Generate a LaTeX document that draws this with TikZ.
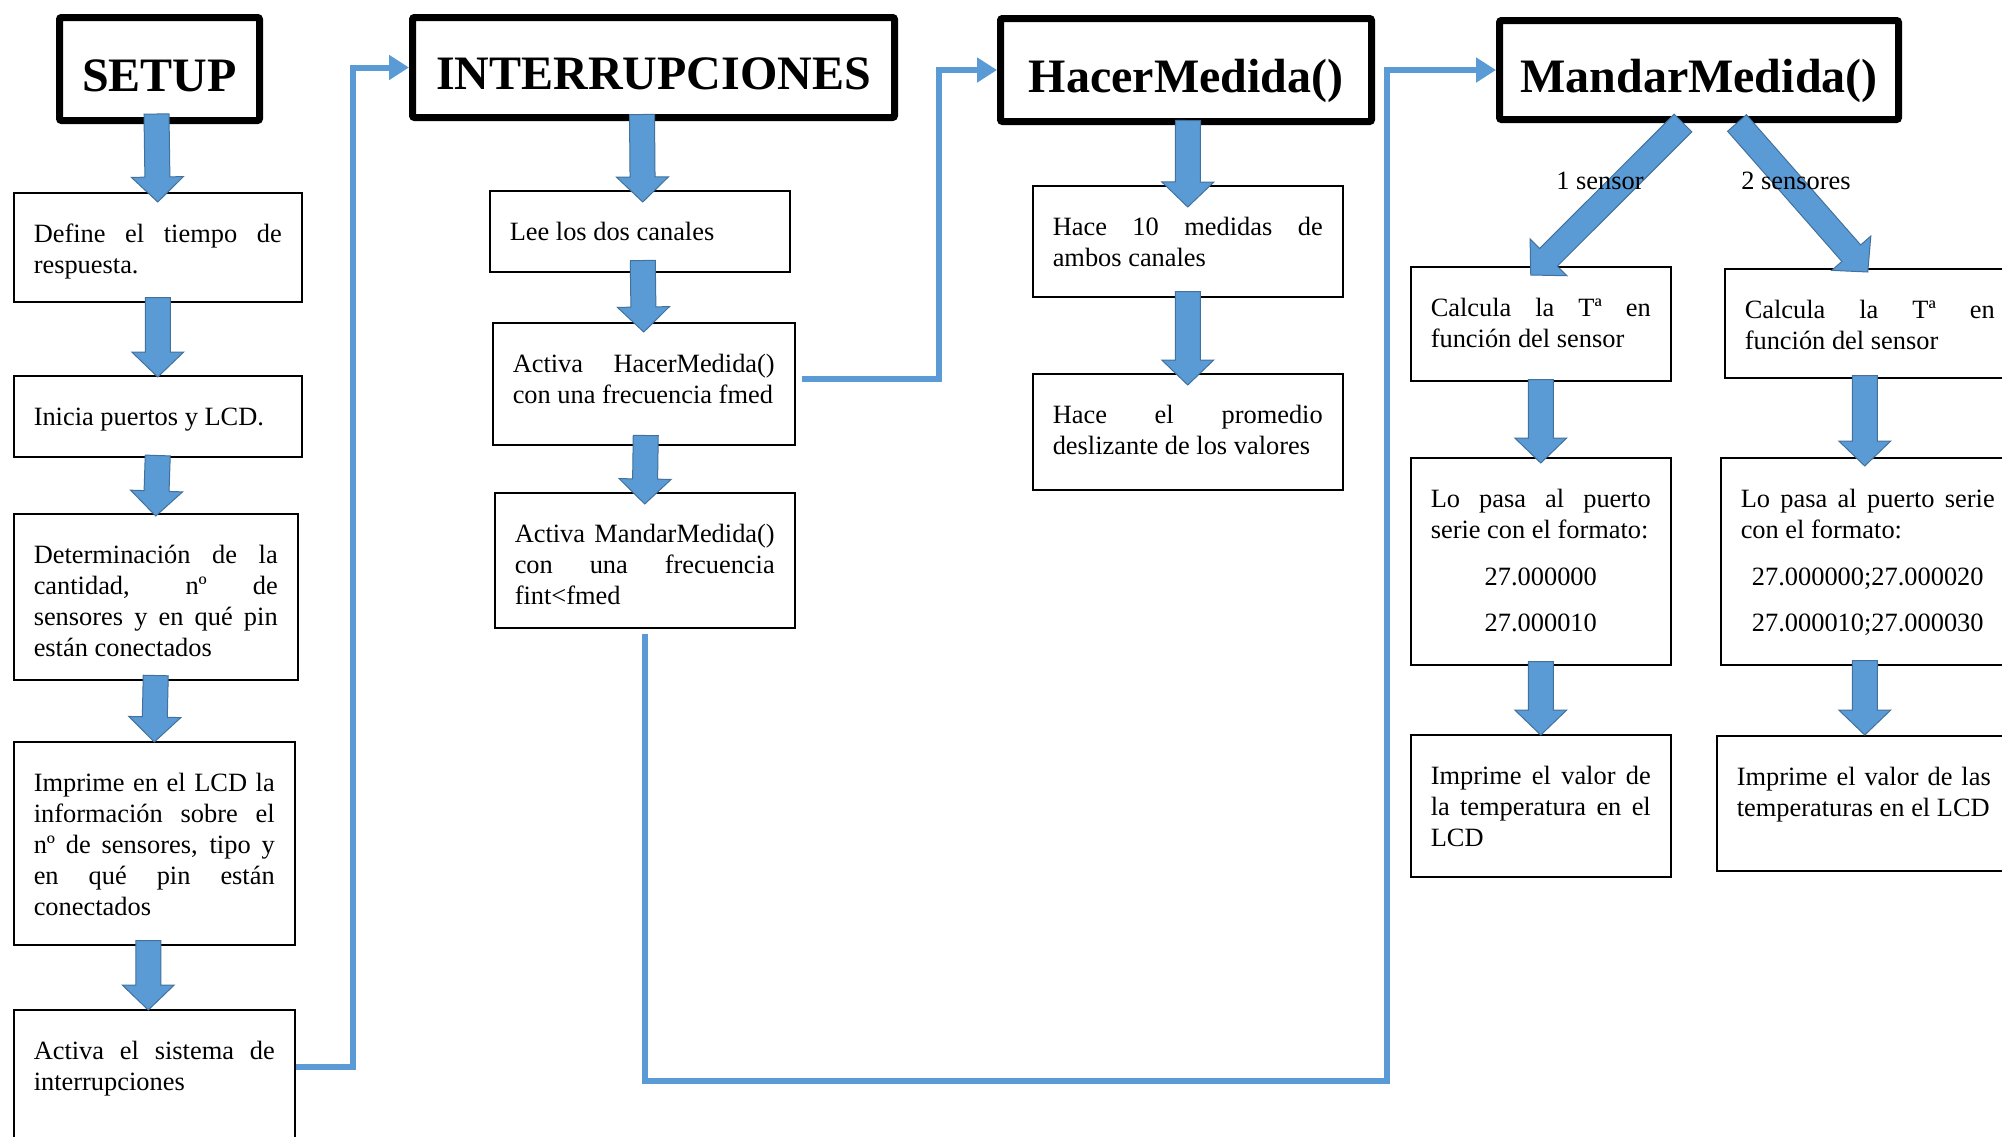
\documentclass[tikz,border=0pt]{standalone}
\usepackage{fontspec}
\setmainfont{Liberation Serif}
\usepackage{tikz}
\usetikzlibrary{arrows.meta}
\usetikzlibrary{calc}

\definecolor{arrowblue}{HTML}{5B9BD5}
\definecolor{arrowedge}{HTML}{41719C}

\tolerance=10000
\hyphenpenalty=10000

%fat block arrow from #1 to #2
\newcommand{\fatarrow}[2]{%
	\coordinate (fa-s) at (#1);
	\coordinate (fa-t) at (#2);
	\coordinate (fa-h) at ($(fa-t)!12.5pt!(fa-s)$);
	\draw[blockarrow] ($(fa-s)!6.25pt!90:(fa-t)$) -- ($(fa-h)!6.25pt!90:(fa-t)$) -- ($(fa-h)!13pt!90:(fa-t)$) -- (fa-t) -- ($(fa-h)!13pt!-90:(fa-t)$) -- ($(fa-h)!6.25pt!-90:(fa-t)$) -- ($(fa-s)!6.25pt!-90:(fa-t)$) -- cycle;
}
%box text: height, width, text
\newcommand{\boxtext}[3]{\begin{minipage}[c][#1][t]{#2}\rule{0pt}{25pt}#3\end{minipage}}

\begin{document}
\begin{tikzpicture}[x=0.5pt,y=-0.5pt,
	titlebox/.style={draw,line width=3.5pt,rounded corners=1pt,inner sep=0pt,font=\bfseries\fontsize{24}{28}\selectfont,text height=22pt,text depth=0pt},
	textbox/.style={draw,line width=0.75pt,anchor=north west,inner xsep=10pt,inner ysep=0pt,font=\fontsize{13.2}{15.5}\selectfont},
	flowline/.style={draw=arrowblue,line width=3pt,-{Triangle[length=10pt,width=12pt]}},
	blockarrow/.style={fill=arrowblue,draw=arrowedge,line width=0.5pt},
	branchlabel/.style={inner sep=0pt,font=\fontsize{13.2}{15.5}\selectfont}]
	\useasboundingbox (0,0) rectangle (2002,1136);

	%SETUP COLUMN
	\node [titlebox,minimum width=100pt,minimum height=51.5pt] (setup) at (159.5,69) {SETUP};
	  \node [textbox] (define) at (13,192) {\boxtext{54.5pt}{124pt}{Define el tiempo de\linebreak respuesta.}};
	  \node [textbox] (inicia) at (13,375) {\boxtext{40.5pt}{124pt}{Inicia puertos y LCD.}};
	  \node [textbox] (determ) at (13,513) {\boxtext{83pt}{122pt}{Determinación de la\linebreak cantidad, nº de\linebreak sensores y en qué pin\linebreak están conectados}};
	  \node [textbox] (imprime) at (13,741) {\boxtext{101.5pt}{120.5pt}{Imprime en el LCD la\linebreak información sobre el\linebreak nº de sensores, tipo y\linebreak en qué pin están\linebreak conectados}};
	  \node [textbox] (sistema) at (13,1009) {\boxtext{80pt}{120.5pt}{Activa el sistema de\linebreak interrupciones}};

	%INTERRUPCIONES COLUMN
	\node [titlebox,minimum width=241pt,minimum height=50pt] (interr) at (653.5,67.5) {INTERRUPCIONES};
	  \node [textbox] (lee) at (489,190) {\boxtext{40.5pt}{130pt}{Lee los dos canales}};
	  \node [textbox] (hmact) at (492,322) {\boxtext{61pt}{131pt}{Activa HacerMedida()\linebreak con una frecuencia fmed}};
	  \node [textbox] (mmact) at (494,492) {\boxtext{67.5pt}{130pt}{Activa MandarMedida()\linebreak con una frecuencia\linebreak fint<fmed}};

	%HACERMEDIDA COLUMN
	\node [titlebox,minimum width=185.5pt,minimum height=51.5pt] (hacer) at (1186,70) {HacerMedida()};
	  \node [textbox] (hace10) at (1032,185) {\boxtext{55.5pt}{135pt}{Hace 10 medidas de\linebreak ambos canales}};
	  \node [textbox] (promedio) at (1032,373) {\boxtext{58pt}{135pt}{Hace el promedio\linebreak deslizante de los valores}};

	%MANDARMEDIDA COLUMN
	\node [titlebox,minimum width=199.5pt,minimum height=49.5pt] (mandar) at (1699,70) {MandarMedida()};
	  %1 SENSOR
	  \node [textbox] (calc1) at (1410,266) {\boxtext{57pt}{110pt}{Calcula la Tª en\linebreak función del sensor}};
	  \node [textbox] (pasa1) at (1410,457) {\boxtext{103.5pt}{110pt}{Lo pasa al puerto\linebreak serie con el formato:\par\vspace{8pt}\centering 27.000000\par\vspace{7.5pt}27.000010}};
	  \node [textbox] (imp1) at (1410,734) {\boxtext{71pt}{110pt}{Imprime el valor de\linebreak la temperatura en el\linebreak LCD}};
	  %2 SENSORES
	  \node [textbox] (calc2) at (1724,268) {\boxtext{54.5pt}{125pt}{Calcula la Tª en\linebreak función del sensor}};
	  \node [textbox] (pasa2) at (1720,457) {\boxtext{103.5pt}{127pt}{Lo pasa al puerto serie\linebreak con el formato:\par\vspace{8pt}\centering 27.000000;27.000020\par\vspace{7.5pt}27.000010;27.000030}};
	  \node [textbox] (imp2) at (1716,735) {\boxtext{67.5pt}{127pt}{Imprime el valor de las\linebreak temperaturas en el LCD}};

	%JUMPS BETWEEN COLUMNS
	\draw[flowline] ([yshift=-29pt]sistema.north east) -- ++(57,0) |- (interr.west);
	\draw[flowline] ([xshift=3pt,yshift=2.5pt]hmact.east) -- ++(137,0) |- (hacer.west);
	\coordinate (backbend) at (1387,1081);
	\draw[flowline] ([yshift=-2.5pt]mmact.south) |- (backbend) |- (mandar.west);

	%BLOCK ARROWS
	\fatarrow{[xshift=-1.5pt,yshift=5pt]setup.south}{[yshift=-5pt]define.north}
	\fatarrow{[yshift=2.5pt]define.south}{[yshift=-1pt]inicia.north}
	\fatarrow{[yshift=1pt]inicia.south}{[yshift=-1.5pt]determ.north}
	\fatarrow{[yshift=2.5pt]determ.south}{[yshift=-0.5pt]imprime.north}
	\fatarrow{[xshift=-3pt,yshift=2.5pt]imprime.south}{[xshift=-3pt,yshift=-0.5pt]sistema.north}

	\fatarrow{[xshift=-5.75pt,yshift=3.25pt]interr.south}{[xshift=1.5pt,yshift=-6pt]lee.north}
	\fatarrow{[xshift=1.5pt,yshift=6pt]lee.south}{[yshift=-5pt]hmact.north}
	\fatarrow{[xshift=1pt,yshift=5pt]hmact.south}{[yshift=-6pt]mmact.north}

	\fatarrow{[xshift=1pt,yshift=2.25pt]hacer.south}{[yshift=-11pt]hace10.north}
	\fatarrow{[yshift=3pt]hace10.south}{[yshift=-6pt]promedio.north}

	\fatarrow{[xshift=-8pt]mandar.south}{[xshift=-5pt,yshift=-4.5pt]calc1.north}
	\fatarrow{[xshift=19pt]mandar.south}{[xshift=-1pt,yshift=-2pt]calc2.north}
	\fatarrow{[yshift=1pt]calc1.south}{[yshift=-3pt]pasa1.north}
	\fatarrow{[xshift=-2.5pt,yshift=1.5pt]calc2.south}{[xshift=-1.5pt,yshift=-4.5pt]pasa2.north}
	\fatarrow{[yshift=2pt]pasa1.south}{[yshift=-0.5pt]imp1.north}
	\fatarrow{[xshift=-1.5pt,yshift=2.5pt]pasa2.south}{[xshift=0.5pt]imp2.north}

	%BRANCH LABELS
	\node [branchlabel] (onesensor) at (1600,181) {1 sensor};
	\node [branchlabel] (twosensor) at (1796,181) {2 sensores};
\end{tikzpicture}
\end{document}
